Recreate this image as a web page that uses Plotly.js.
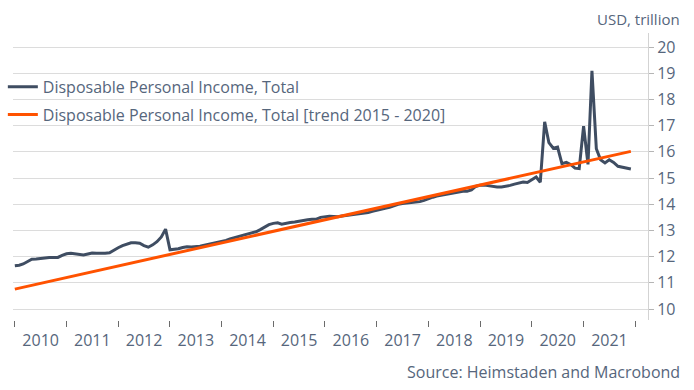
<!DOCTYPE html>
<html>
<head>
<meta charset="utf-8">
<script src="https://cdn.plot.ly/plotly-3.0.1.min.js"></script>
<style>
  html, body { margin: 0; padding: 0; background: #ffffff; }
  #chart { width: 694px; height: 390px; }
</style>
</head>
<body>
<div id="chart"></div>
<script>
// Monthly series, first observation January 2010
const firstYear = 2010;
const dpiTotal = [
  11.65, 11.67, 11.72, 11.82, 11.90, 11.91, 11.93, 11.97, 11.97, 11.97, 11.97, 12.05,
  12.11, 12.13, 12.10, 12.08, 12.06, 12.10, 12.14, 12.13, 12.12, 12.13, 12.15, 12.26,
  12.34, 12.42, 12.48, 12.53, 12.53, 12.51, 12.42, 12.36, 12.45, 12.57, 12.75, 13.05,
  12.26, 12.27, 12.30, 12.35, 12.38, 12.37, 12.38, 12.40, 12.44, 12.47, 12.50, 12.53,
  12.57, 12.62, 12.68, 12.73, 12.78, 12.81, 12.86, 12.90, 12.95, 13.03, 13.12, 13.22,
  13.27, 13.29, 13.24, 13.28, 13.30, 13.32, 13.34, 13.38, 13.41, 13.43, 13.43, 13.50,
  13.53, 13.54, 13.53, 13.52, 13.55, 13.57, 13.59, 13.61, 13.63, 13.66, 13.68, 13.73,
  13.78, 13.82, 13.85, 13.88, 13.95, 14.00, 14.03, 14.05, 14.06, 14.08, 14.10, 14.15,
  14.22, 14.27, 14.31, 14.34, 14.37, 14.40, 14.44, 14.48, 14.50, 14.50, 14.55, 14.68,
  14.73, 14.73, 14.71, 14.67, 14.66, 14.66, 14.68, 14.72, 14.77, 14.80, 14.85, 14.83,
  14.95, 15.04, 14.84, 17.15, 16.35, 16.14, 16.18, 15.55, 15.60, 15.52, 15.38, 15.36,
  16.98, 15.52, 19.10, 16.12, 15.70, 15.58, 15.70, 15.60, 15.45, 15.42, 15.38, 15.35
];
// Trend line (2015-2020 fit) endpoints
const trendDates = ["2010-01-01", "2021-12-01"];
const trendValues = [10.76, 16.02];

const seriesNames = [
  "Disposable Personal Income, Total",
  "Disposable Personal Income, Total [trend 2015 - 2020]"
];
const yTickValues = [10, 11, 12, 13, 14, 15, 16, 17, 18, 19, 20];
const unitLabel = "USD, trillion";
const sourceLabel = "Source: Heimstaden and Macrobond";

const dpiDates = dpiTotal.map((_, i) => {
  const y = firstYear + Math.floor(i / 12);
  const m = (i % 12) + 1;
  return y + "-" + String(m).padStart(2, "0") + "-01";
});

const FONT = "'Open Sans', 'Noto Sans', sans-serif";
const TEXT = "#56667c";

const traces = [
  {
    x: dpiDates, y: dpiTotal, type: "scatter", mode: "lines",
    name: seriesNames[0], legendgroup: "a",
    line: { color: "#3f4d62", width: 3 }
  },
  {
    x: trendDates, y: trendValues, type: "scatter", mode: "lines",
    name: seriesNames[1], legendgroup: "b",
    line: { color: "#ff5200", width: 3 }
  }
];

const layout = {
  width: 694, height: 390,
  margin: { l: 13, r: 46, t: 33, b: 70, autoexpand: false },
  paper_bgcolor: "#ffffff", plot_bgcolor: "#ffffff",
  font: { family: FONT, color: TEXT, size: 16 },
  showlegend: true,
  legend: {
    x: -0.016, y: 0.872, xanchor: "left", yanchor: "top",
    bgcolor: "rgba(0,0,0,0)", borderwidth: 0,
    font: { family: FONT, size: 16, color: TEXT },
    tracegroupgap: 4, traceorder: "grouped"
  },
  xaxis: {
    type: "date",
    range: ["2009-12-19", "2022-04-01"],
    tick0: "2010-01-01", dtick: "M12",
    ticklabelmode: "period", tickformat: "%Y",
    ticks: "outside", ticklen: 6, tickcolor: "#6b6b6b", tickwidth: 1,
    showgrid: false, showline: false, zeroline: false,
    tickfont: { family: FONT, size: 16, color: TEXT }
  },
  yaxis: {
    side: "right",
    range: [9.58, 20.54],
    tickvals: yTickValues,
    ticks: "outside", ticklen: 5, tickcolor: "#b5b5b5",
    showline: true, linecolor: "#d3d3d3", linewidth: 1,
    showgrid: true, gridcolor: "#dcdcdc", gridwidth: 1,
    zeroline: false,
    tickfont: { family: FONT, size: 16, color: TEXT }
  },
  annotations: [
    {
      text: unitLabel, xref: "paper", yref: "paper",
      x: 1.054, y: 1.05, xanchor: "right", yanchor: "middle",
      showarrow: false, font: { family: FONT, size: 15, color: TEXT }
    },
    {
      text: sourceLabel, xref: "paper", yref: "paper",
      x: 1.054, y: -0.18, xanchor: "right", yanchor: "middle",
      showarrow: false, font: { family: FONT, size: 16, color: TEXT }
    }
  ]
};

Plotly.newPlot("chart", traces, layout, { displayModeBar: false, staticPlot: true });
</script>
</body>
</html>
